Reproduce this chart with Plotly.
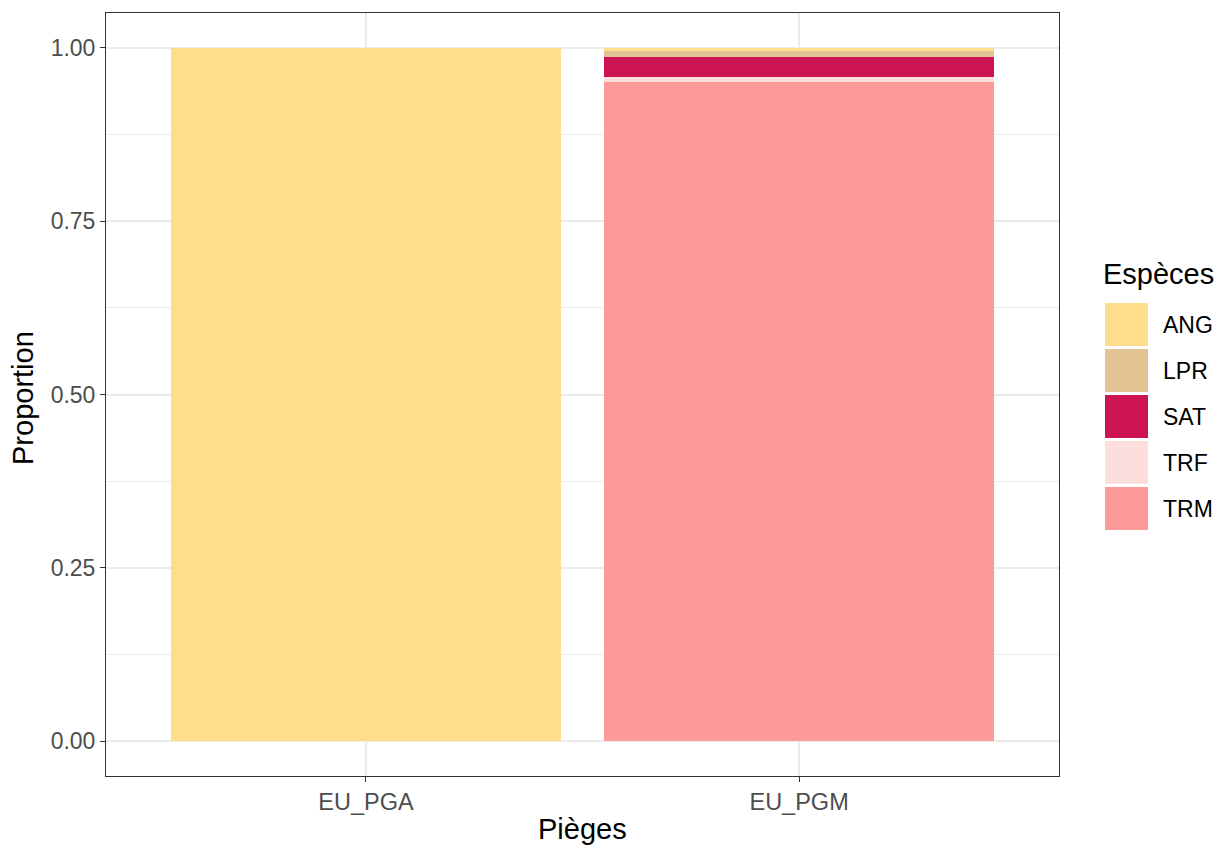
import plotly.graph_objects as go

# ---- data ----
traps = ["EU_PGA", "EU_PGM"]
species = ["ANG", "LPR", "SAT", "TRF", "TRM"]
ang = [1.0, 0.0043]
lpr = [0.0, 0.0086]
sat = [0.0, 0.0290]
trf = [0.0, 0.0072]
trm = [0.0, 0.9509]
colors = ["#FEDD8B", "#E2C393", "#CC1452", "#FCDEDC", "#FB9A99"]
y_ticks = [0, 0.25, 0.5, 0.75, 1.0]

values = {"ANG": ang, "LPR": lpr, "SAT": sat, "TRF": trf, "TRM": trm}
col = dict(zip(species, colors))

W, H = 1216, 845
L, R, T, B = 106, 1059, 13, 776  # plot area in px


def px(x):
    return (x - L) / (R - L)


def py(y):
    return (B - y) / (B - T)


fig = go.Figure()
# ggplot stacks first level on top -> add in reverse order
for sp in reversed(species):
    fig.add_trace(go.Bar(
        x=traps, y=values[sp], name=sp,
        marker=dict(color=col[sp], line=dict(width=0)),
        width=0.9, showlegend=False,
    ))

fig.update_layout(
    barmode="stack",
    width=W, height=H, autosize=False,
    margin=dict(l=L, r=W - R, t=T, b=H - B, pad=0),
    paper_bgcolor="white", plot_bgcolor="white",
    font=dict(family="Liberation Sans, Arial, sans-serif", color="black"),
)
fig.update_xaxes(
    range=[-0.6, 1.6],
    showgrid=True, gridcolor="#EBEBEB", gridwidth=2,
    showline=True, mirror=True, linecolor="#333333", linewidth=1,
    ticks="outside", ticklen=5, tickcolor="#333333", tickwidth=1,
    tickfont=dict(size=23.5, color="#4D4D4D"),
    zeroline=False,
)
fig.update_yaxes(
    range=[-0.05, 1.05],
    tickvals=y_ticks, tickformat=".2f",
    showgrid=True, gridcolor="#EBEBEB", gridwidth=2,
    minor=dict(dtick=0.125, tick0=0, showgrid=True, gridcolor="#EBEBEB", gridwidth=1),
    showline=True, mirror=True, linecolor="#333333", linewidth=1,
    ticks="outside", ticklen=5, tickcolor="#333333", tickwidth=1,
    tickfont=dict(size=23, color="#4D4D4D"),
    zeroline=False,
)

# axis titles
fig.add_annotation(text="Pièges", xref="paper", yref="paper",
                   x=px((L + R) / 2), y=py(829), xanchor="center", yanchor="middle",
                   showarrow=False, font=dict(size=29, color="black"))
fig.add_annotation(text="Proportion", xref="paper", yref="paper",
                   x=px(23), y=py(398), xanchor="center", yanchor="middle",
                   textangle=-90, showarrow=False, font=dict(size=29, color="black"))

# manual legend (ggplot-style large keys)
fig.add_annotation(text="Espèces", xref="paper", yref="paper",
                   x=px(1101), y=py(274), xanchor="left", yanchor="middle",
                   showarrow=False, font=dict(size=29, color="black"))
for i, sp in enumerate(species):
    top = 303 + 46 * i
    fig.add_shape(type="rect", xref="paper", yref="paper",
                  x0=px(1105), x1=px(1148), y0=py(top + 43), y1=py(top),
                  fillcolor=col[sp], line=dict(width=0))
    fig.add_annotation(text=sp, xref="paper", yref="paper",
                       x=px(1161), y=py(top + 21.5), xanchor="left", yanchor="middle",
                       showarrow=False, font=dict(size=23, color="black"))

fig.write_html(
    "out.html",
    config={"displayModeBar": False},
    post_script="document.body.style.margin='0px';document.body.style.overflow='hidden';",
)
